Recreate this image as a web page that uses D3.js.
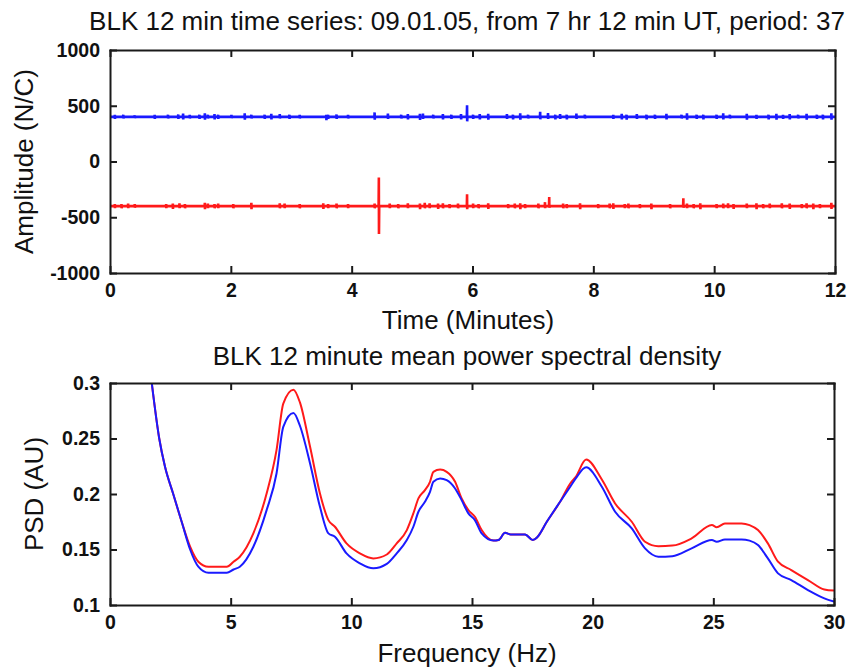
<!DOCTYPE html>
<html><head><meta charset="utf-8">
<script src="https://cdn.jsdelivr.net/npm/d3@7"></script>
<style>
html,body{margin:0;padding:0;background:#fff;}
svg{display:block;font-family:"Liberation Sans",Arial,sans-serif;}
</style></head>
<body><svg id="c" width="850" height="669"></svg>
<script>
// ---------- DATA ----------
const title1 = "BLK 12 min time series: 09.01.05, from 7 hr 12 min UT, period: 37";
const title2 = "BLK 12 minute mean power spectral density";
const timeTicks = [0,2,4,6,8,10,12];
const ampTicks = [-1000,-500,0,500,1000];
const freqTicks = [0,5,10,15,20,25,30];
const psdTicks = [0.1,0.15,0.2,0.25,0.3];

const blueBase = 400;
const redBase = -400;

const blueSpikeT = [0.08,0.22,0.41,0.74,0.96,1.13,1.21,1.32,1.48,1.57,1.62,1.73,1.79,2.01,2.23,2.34,2.56,2.67,2.81,2.97,3.14,3.58,3.61,3.75,3.94,4.38,4.60,4.82,4.93,5.13,5.18,5.35,5.51,5.65,5.81,5.91,
 6.01,6.12,6.26,6.57,6.67,6.79,6.92,7.12,7.25,7.37,7.45,7.56,7.72,7.86,8.33,8.47,8.55,8.72,8.88,9.02,9.21,9.46,9.55,9.71,9.82,10.04,10.15,10.26,10.54,10.70,10.90,11.03,11.14,11.25,11.39,11.53,11.70,11.80,11.94];
const blueSpikeHi = [418,420,415,418,420,422,430,418,420,432,420,425,420,418,432,420,420,428,425,420,418,418,420,422,418,440,430,420,425,428,430,420,425,420,425,505,
 420,425,428,425,420,432,420,445,435,420,425,420,430,420,418,428,420,425,420,420,428,420,432,420,420,420,432,420,428,418,420,428,418,425,420,428,420,420,432];
const blueSpikeLo = [382,385,388,382,385,382,378,385,382,375,385,378,382,388,375,385,382,378,385,382,385,370,382,382,385,375,382,385,378,372,382,385,378,382,378,360,
 382,378,375,382,378,375,385,378,382,378,382,378,382,385,382,378,375,382,378,382,378,385,375,382,378,382,378,385,375,382,378,375,382,378,385,375,382,378,375];

const redSpikeT = [0.08,0.19,0.30,0.41,0.93,1.04,1.15,1.24,1.57,1.62,1.73,1.79,2.04,2.34,2.81,2.89,3.14,3.53,3.61,3.75,3.94,4.38,4.45,4.63,4.77,4.93,5.13,5.21,5.29,5.43,5.51,5.62,5.76,5.91,
 6.01,6.10,6.26,6.59,6.70,6.79,6.87,7.09,7.20,7.27,7.50,7.56,7.78,8.08,8.27,8.33,8.52,8.58,8.77,8.96,9.27,9.49,9.55,9.66,9.77,10.04,10.15,10.23,10.32,10.54,10.70,10.81,10.92,11.12,11.25,11.45,11.53,11.64,11.75,11.94];
const redSpikeHi = [-382,-382,-378,-382,-382,-378,-375,-382,-370,-378,-382,-378,-382,-370,-375,-378,-382,-375,-382,-378,-382,-378,-143,-378,-382,-375,-378,-370,-375,-378,-375,-382,-378,-293,
 -378,-382,-375,-382,-378,-375,-382,-378,-365,-318,-378,-382,-375,-382,-378,-375,-382,-378,-382,-378,-382,-330,-378,-382,-375,-382,-378,-375,-382,-378,-375,-382,-378,-375,-378,-382,-375,-378,-382,-370];
const redSpikeLo = [-418,-420,-418,-415,-418,-425,-418,-420,-428,-418,-420,-418,-420,-428,-420,-418,-420,-425,-418,-420,-418,-420,-651,-418,-420,-418,-428,-420,-418,-425,-420,-418,-420,-428,
 -418,-420,-425,-418,-420,-428,-418,-420,-418,-415,-420,-418,-428,-418,-420,-425,-418,-420,-418,-428,-420,-415,-418,-420,-428,-418,-420,-418,-425,-418,-428,-420,-418,-420,-425,-418,-420,-428,-418,-425];

const freq = [1.73,2.04,2.28,2.62,2.97,3.32,3.66,4.08,4.5,4.84,5.12,5.38,5.94,6.49,6.9,7.18,7.6,7.87,8.29,8.7,9.05,9.32,9.8,10.36,10.91,11.47,11.88,12.3,12.57,12.78,13.05,13.26,13.4,13.68,13.95,14.3,14.57,14.85,15.12,15.4,15.89,16.1,16.37,16.6,16.9,17.2,17.52,17.7,18.1,18.65,19.07,19.3,19.73,20.38,20.93,21.62,22.17,22.72,23.3,24.1,24.94,25.14,25.48,26.17,26.5,26.85,27.26,27.68,28.23,28.92,29.6,30];
const psdRed = [0.300,0.250,0.2245,0.200,0.175,0.1525,0.139,0.1345,0.1345,0.1345,0.139,0.1435,0.1645,0.2005,0.2395,0.2815,0.294,0.2825,0.2425,0.2005,0.1765,0.1705,0.1555,0.1465,0.142,0.1455,0.1555,0.1675,0.1825,0.196,0.2035,0.211,0.220,0.222,0.220,0.211,0.196,0.1855,0.1795,0.1675,0.158,0.1585,0.165,0.1636,0.1636,0.1636,0.1585,0.161,0.175,0.193,0.2095,0.2155,0.231,0.213,0.1915,0.175,0.157,0.153,0.1535,0.160,0.172,0.170,0.1735,0.1735,0.172,0.1675,0.1555,0.139,0.1315,0.1225,0.114,0.113];
const psdBlue = [0.300,0.250,0.2245,0.200,0.175,0.1500,0.1345,0.129,0.129,0.129,0.132,0.1345,0.1525,0.1855,0.2185,0.2605,0.273,0.2615,0.2275,0.1885,0.1645,0.1615,0.1465,0.1375,0.133,0.137,0.1465,0.1585,0.1705,0.184,0.193,0.202,0.211,0.214,0.2125,0.205,0.1945,0.1825,0.1765,0.1645,0.158,0.1585,0.165,0.1636,0.1636,0.1636,0.1585,0.161,0.175,0.193,0.2065,0.214,0.224,0.2065,0.184,0.169,0.151,0.1435,0.144,0.151,0.1585,0.157,0.159,0.159,0.158,0.154,0.142,0.1285,0.1225,0.1135,0.106,0.103];

// ---------- DRAW ----------
const svg = d3.select("#c");
const BLUE = "#1a1aff", RED = "#ff1a1a", AX = "#1a1a1a";
const FS = "26px";

function buildSeries(base, T, Hi, Lo){
  const pts = [[0, base]];
  T.forEach((t,i)=>{
    pts.push([t-0.004, base],[t, Hi[i]],[t+0.002, Lo[i]],[t+0.006, base]);
  });
  pts.push([12, base]);
  return pts;
}

function drawFrame(g, x, y, xt, yt, yfmt, w, h){
  const tick = 7;
  const fnt = g2 => g2.selectAll("text").attr("font-size","19.5px").attr("font-weight","bold")
      .attr("fill","#111").attr("font-family","'Liberation Sans',Arial,sans-serif");
  const style = g2 => { g2.select(".domain").attr("stroke",AX).attr("stroke-width",2);
                        g2.selectAll(".tick line").attr("stroke",AX).attr("stroke-width",2); };
  g.append("g").attr("transform",`translate(0,${h})`)
    .call(d3.axisBottom(x).tickValues(xt).tickSizeInner(-tick).tickSizeOuter(0).tickPadding(10).tickFormat(d=>String(d)))
    .call(style).call(fnt);
  g.append("g")
    .call(d3.axisTop(x).tickValues(xt).tickSizeInner(-tick).tickSizeOuter(0).tickFormat(""))
    .call(style);
  g.append("g")
    .call(d3.axisLeft(y).tickValues(yt).tickSizeInner(-tick).tickSizeOuter(0).tickPadding(10).tickFormat(yfmt))
    .call(style).call(fnt);
  g.append("g").attr("transform",`translate(${w},0)`)
    .call(d3.axisRight(y).tickValues(yt).tickSizeInner(-tick).tickSizeOuter(0).tickFormat(""))
    .call(style);
  g.selectAll(".domain").attr("stroke-linecap","square");
}

// ---- Top panel ----
const L1 = 110, R1 = 835, T1 = 50, B1 = 273;
const w1 = R1-L1, h1 = B1-T1;
const CX = 467;
const g1 = svg.append("g").attr("transform",`translate(${L1},${T1})`);
const x1 = d3.scaleLinear().domain([0,12]).range([0,w1]);
const y1 = d3.scaleLinear().domain([-1000,1000]).range([h1,0]);
g1.append("clipPath").attr("id","cp1").append("rect").attr("width",w1).attr("height",h1);
const line1 = d3.line().x(d=>x1(d[0])).y(d=>y1(d[1]));
const lg1 = g1.append("g").attr("clip-path","url(#cp1)");
lg1.append("path").datum(buildSeries(blueBase, blueSpikeT, blueSpikeHi, blueSpikeLo))
  .attr("d",line1).attr("fill","none").attr("stroke",BLUE).attr("stroke-width",2.6);
lg1.append("path").datum(buildSeries(redBase, redSpikeT, redSpikeHi, redSpikeLo))
  .attr("d",line1).attr("fill","none").attr("stroke",RED).attr("stroke-width",2.6);
drawFrame(g1, x1, y1, timeTicks, ampTicks, d=>String(d), w1, h1);

svg.append("text").attr("x",CX).attr("y",30).attr("text-anchor","middle")
  .attr("font-size",FS).attr("fill","#111").text(title1);
svg.append("text").attr("x",CX+1).attr("y",329).attr("text-anchor","middle")
  .attr("font-size",FS).attr("fill","#111").text("Time (Minutes)");
svg.append("text").attr("transform",`translate(33,${(T1+B1)/2}) rotate(-90)`).attr("text-anchor","middle")
  .attr("font-size",FS).attr("fill","#111").text("Amplitude (N/C)");

// ---- Bottom panel ----
const L2 = 110, R2 = 834, T2 = 383, B2 = 605;
const w2 = R2-L2, h2 = B2-T2;
const g2 = svg.append("g").attr("transform",`translate(${L2},${T2})`);
const x2 = d3.scaleLinear().domain([0,30]).range([0,w2]);
const y2 = d3.scaleLinear().domain([0.1,0.3]).range([h2,0]);
g2.append("clipPath").attr("id","cp2").append("rect").attr("width",w2).attr("height",h2);
const line2 = d3.line().x((d,i)=>x2(freq[i])).y(d=>y2(d)).curve(d3.curveMonotoneX);
const lg2 = g2.append("g").attr("clip-path","url(#cp2)");
lg2.append("path").datum(psdRed).attr("d",line2).attr("fill","none").attr("stroke",RED).attr("stroke-width",2);
lg2.append("path").datum(psdBlue).attr("d",line2).attr("fill","none").attr("stroke",BLUE).attr("stroke-width",2);
drawFrame(g2, x2, y2, freqTicks, psdTicks, d=>String(+d.toFixed(2)), w2, h2);

svg.append("text").attr("x",CX).attr("y",365).attr("text-anchor","middle")
  .attr("font-size",FS).attr("fill","#111").text(title2);
svg.append("text").attr("x",CX).attr("y",662).attr("text-anchor","middle")
  .attr("font-size",FS).attr("fill","#111").text("Frequency (Hz)");
svg.append("text").attr("transform",`translate(43,${(T2+B2)/2}) rotate(-90)`).attr("text-anchor","middle")
  .attr("font-size",FS).attr("fill","#111").text("PSD (AU)");
</script></body></html>
